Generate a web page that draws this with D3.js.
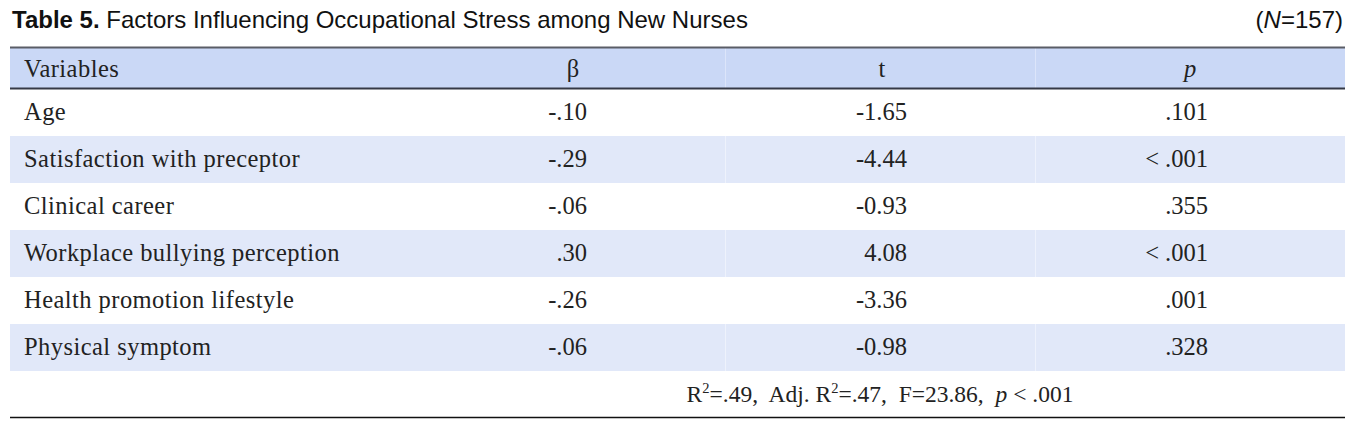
<!DOCTYPE html>
<html>
<head>
<meta charset="utf-8">
<script src="https://cdn.jsdelivr.net/npm/d3@7/dist/d3.min.js"></script>
<style>
  html, body { margin: 0; padding: 0; background: #fff; }
  svg { display: block; }
  text { white-space: pre; }
</style>
</head>
<body>
<svg id="chart" width="1366" height="421"></svg>
<script>
// ---- data ----
const columns = ["Variables", "β", "t", "p"];
const variables = [
  "Age",
  "Satisfaction with preceptor",
  "Clinical career",
  "Workplace bullying perception",
  "Health promotion lifestyle",
  "Physical symptom"
];
const betaValues = ["-.10", "-.29", "-.06", ".30", "-.26", "-.06"];
const tValues = ["-1.65", "-4.44", "-0.93", "4.08", "-3.36", "-0.98"];
const pValues = [".101", "< .001", ".355", "< .001", ".001", ".328"];
const titleBold = "Table 5.";
const titleText = " Factors Influencing Occupational Stress among New Nurses";
const sampleN = "157";
const summaryParts = { r2: ".49", adjR2: ".47", F: "23.86", p: "< .001" };

// ---- layout ----
const svg = d3.select("#chart");
const left = 10, right = 1345;
const headerTop = 48, headerBottom = 89;
const rowH = 47;
const serif = "'Liberation Serif', 'Times New Roman', serif";
const sans = "'Liberation Sans', Arial, sans-serif";

const rowKeys = variables.map((d, i) => i);
const y = d3.scaleBand()
  .domain([...rowKeys, "summary"])
  .range([headerBottom, headerBottom + rowH * (variables.length + 1)])
  .paddingInner(0).paddingOuter(0);

const colEdges = [left, 415, 725, 1035, right];
const headerCenters = [24, 573, 882, 1190];
const rightAligns = { beta: 587, t: 907, p: 1208 };

// title
const title = svg.append("text")
  .attr("x", 12).attr("y", 28)
  .attr("font-family", sans).attr("font-size", 24).attr("fill", "#111");
title.append("tspan").attr("font-weight", "bold").text(titleBold);
title.append("tspan").text(titleText);

const nText = svg.append("text")
  .attr("x", 1343).attr("y", 28).attr("text-anchor", "end")
  .attr("font-family", sans).attr("font-size", 24).attr("fill", "#111");
nText.append("tspan").text("(");
nText.append("tspan").attr("font-style", "italic").text("N");
nText.append("tspan").text("=" + sampleN + ")");

// header background
svg.append("rect")
  .attr("x", left).attr("y", headerTop)
  .attr("width", right - left).attr("height", headerBottom - headerTop)
  .attr("fill", "#cad8f6");

// alternating row backgrounds
svg.selectAll("rect.row")
  .data(rowKeys.filter(i => i % 2 === 1))
  .join("rect")
  .attr("class", "row")
  .attr("x", left).attr("y", d => y(d))
  .attr("width", right - left).attr("height", y.bandwidth())
  .attr("fill", "#e1e8f9");

// column separators
[colEdges[2], colEdges[3]].forEach(cx => {
  svg.append("line")
    .attr("x1", cx + 0.5).attr("x2", cx + 0.5)
    .attr("y1", headerTop).attr("y2", headerBottom)
    .attr("stroke", "#dce5fa").attr("stroke-width", 1);
  rowKeys.filter(i => i % 2 === 1).forEach(i => {
    svg.append("line")
      .attr("x1", cx + 0.5).attr("x2", cx + 0.5)
      .attr("y1", y(i)).attr("y2", y(i) + y.bandwidth())
      .attr("stroke", "#eef2fc").attr("stroke-width", 1);
  });
});

// rules
svg.append("line").attr("x1", left).attr("x2", right)
  .attr("y1", headerTop - 0.5).attr("y2", headerTop - 0.5)
  .attr("stroke", "#5a5d66").attr("stroke-width", 2);
svg.append("line").attr("x1", left).attr("x2", right)
  .attr("y1", headerBottom - 0.5).attr("y2", headerBottom - 0.5)
  .attr("stroke", "#343845").attr("stroke-width", 2);
const tableBottom = y("summary") + y.bandwidth();
svg.append("line").attr("x1", left).attr("x2", right)
  .attr("y1", tableBottom - 0.5).attr("y2", tableBottom - 0.5)
  .attr("stroke", "#111").attr("stroke-width", 1.5);

// header text
const fs = 24.5;
const ls = 0.45;
const headerBase = headerTop + 29;
svg.append("text").attr("x", headerCenters[0]).attr("y", headerBase)
  .attr("font-family", serif).attr("font-size", fs).attr("letter-spacing", ls)
  .attr("fill", "#222").text(columns[0]);
[1, 2, 3].forEach(ci => {
  svg.append("text").attr("x", headerCenters[ci]).attr("y", headerBase)
    .attr("text-anchor", "middle")
    .attr("font-family", serif).attr("font-size", fs).attr("fill", "#222")
    .attr("font-style", ci === 3 ? "italic" : null)
    .text(columns[ci]);
});

// body rows
const baseOff = 31;
const g = svg.append("g").attr("font-family", serif).attr("font-size", fs).attr("fill", "#222");
g.selectAll("text.var").data(variables).join("text")
  .attr("class", "var").attr("x", 24).attr("letter-spacing", ls)
  .attr("y", (d, i) => y(i) + baseOff).text(d => d);
g.selectAll("text.beta").data(betaValues).join("text")
  .attr("class", "beta").attr("x", rightAligns.beta).attr("text-anchor", "end")
  .attr("y", (d, i) => y(i) + baseOff).text(d => d);
g.selectAll("text.tv").data(tValues).join("text")
  .attr("class", "tv").attr("x", rightAligns.t).attr("text-anchor", "end")
  .attr("y", (d, i) => y(i) + baseOff).text(d => d);
g.selectAll("text.pv").data(pValues).join("text")
  .attr("class", "pv").attr("x", rightAligns.p).attr("text-anchor", "end")
  .attr("y", (d, i) => y(i) + baseOff).text(d => d);

// summary line
const sum = g.append("text").attr("x", 880).attr("y", y("summary") + baseOff)
  .attr("text-anchor", "middle").attr("font-size", 23.5);
sum.append("tspan").text("R");
sum.append("tspan").attr("dy", -9).attr("font-size", 14.5).text("2");
sum.append("tspan").attr("dy", 9).text("=" + summaryParts.r2 + ",  Adj. R");
sum.append("tspan").attr("dy", -9).attr("font-size", 14.5).text("2");
sum.append("tspan").attr("dy", 9).text("=" + summaryParts.adjR2 + ",  F=" + summaryParts.F + ",  ");
sum.append("tspan").attr("font-style", "italic").text("p");
sum.append("tspan").text(" " + summaryParts.p);
</script>
</body>
</html>
